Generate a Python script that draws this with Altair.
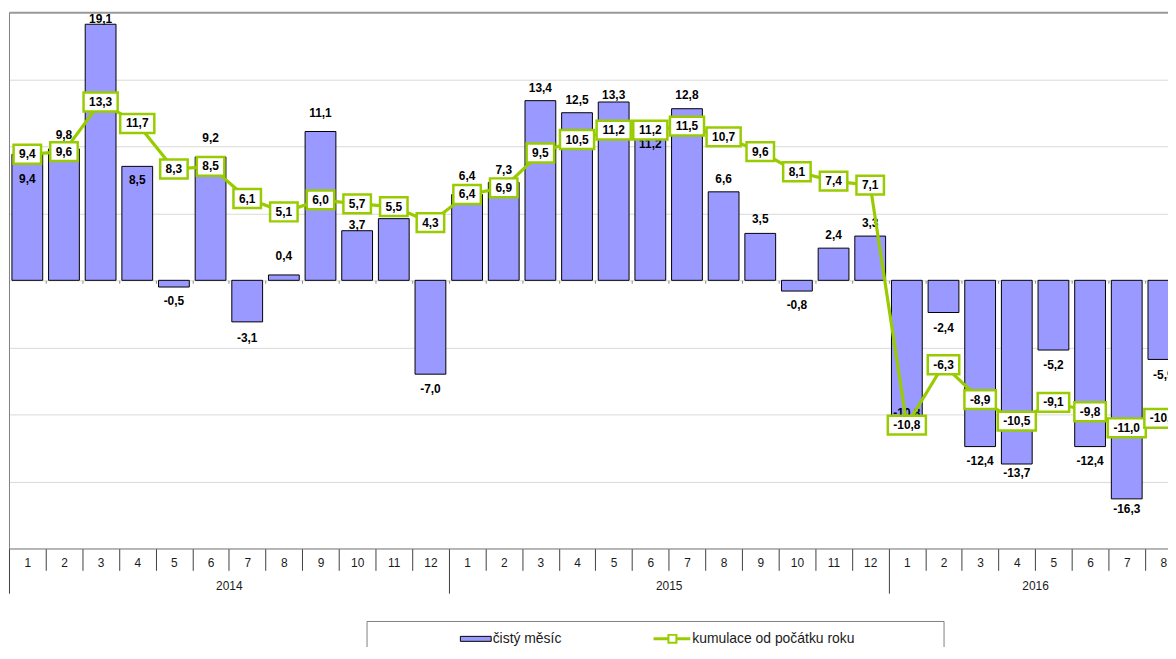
import altair as alt
import pandas as pd

# ---------------- data ----------------
years = [2014] * 12 + [2015] * 12 + [2016] * 8
months = list(range(1, 13)) + list(range(1, 13)) + list(range(1, 9))
monthly = [9.4, 9.8, 19.1, 8.5, -0.5, 9.2, -3.1, 0.4, 11.1, 3.7, 4.6, -7.0,
           6.4, 7.3, 13.4, 12.5, 13.3, 11.2, 12.8, 6.6, 3.5, -0.8, 2.4, 3.3,
           -10.8, -2.4, -12.4, -13.7, -5.2, -12.4, -16.3, -5.9]
cumulative = [9.4, 9.6, 13.3, 11.7, 8.3, 8.5, 6.1, 5.1, 6.0, 5.7, 5.5, 4.3,
              6.4, 6.9, 9.5, 10.5, 11.2, 11.2, 11.5, 10.7, 9.6, 8.1, 7.4, 7.1,
              -10.8, -6.3, -8.9, -10.5, -9.1, -9.8, -11.0, -10.3]
series_names = ["čistý měsíc", "kumulace od počátku roku"]

# ---------------- style (label placement in px, + = downwards) ----------------
bar_label_dy = [25, -14, -5, 14, 14, -19, 16, -19, -19, -6, -13, 15,
                -19, -13, -13, -13, -7, 14, -14, -13, -14, 14, -13, -13,
                -12, 16, 15, 9, 15, 15, 10, 16]

W, H = 1167, 540          # plot area
CAT_PX = 36.9             # width of one category
X_MAX = 0.5 + W / CAT_PX  # the original chart is cut at the right edge
Y_MIN, Y_MAX = -20, 20
PX_PER_UNIT = H / (Y_MAX - Y_MIN)
FONT = "Liberation Sans"
BAR_FILL = "#9999FF"
LINE_COL = "#99CC00"


def fmt(v):
    return f"{v:.1f}".replace(".", ",")


def text_w(s):
    return sum(6.67 if c.isdigit() else 3.33 if c == "," else 4.0 for c in s)


df = pd.DataFrame({"year": years, "month": months,
                   "monthly": monthly, "cum": cumulative})
df["idx"] = range(1, len(df) + 1)
df["bar_label"] = df["monthly"].map(fmt)
df["bar_label_y"] = df["monthly"] - pd.Series(bar_label_dy) / PX_PER_UNIT
df["cum_label"] = df["cum"].map(fmt)
half_w = df["cum_label"].map(lambda s: (text_w(s) + 11) / 2 / CAT_PX)
half_h = 9.5 / PX_PER_UNIT
df["bx1"] = df["idx"] - half_w
df["bx2"] = df["idx"] + half_w
df["by1"] = df["cum"] - half_h
df["by2"] = df["cum"] + half_h

xscale = alt.Scale(domain=[0.5, X_MAX], nice=False, zero=False, padding=0)
yscale = alt.Scale(domain=[Y_MIN, Y_MAX], nice=False, zero=False, padding=0)

# axis helpers derived from the data
month_expr = "[" + ",".join(f"'{m}'" for m in months) + "][datum.value - 1]"
year_first = df.groupby("year")["idx"].min()
year_center = df.groupby("year")["idx"].mean()
year_bounds = [float(v) - 0.5 for v in year_first.values]
month_bounds = [i + 0.5 for i in range(1, len(df)) if (i + 0.5) not in year_bounds]
all_bounds = [i + 0.5 for i in range(0, len(df))]
year_expr = "{" + ",".join(f"'{c:g}':'{y}'" for y, c in year_center.items()) + "}[datum.value]"

base_axis = dict(orient="bottom", title=None, grid=False, labelFlush=False,
                 labelOverlap=False, labelFont=FONT, labelFontSize=12,
                 labelColor="#1a1a1a")

month_axis = alt.Axis(**base_axis, values=list(df["idx"]), labelExpr=month_expr,
                      ticks=False, tickSize=0, labelPadding=9,
                      domain=True, domainColor="#808080")
sep_axis = alt.Axis(**base_axis, values=month_bounds, labels=False, domain=False,
                    ticks=True, tickSize=22, tickColor="#404040")
year_sep_axis = alt.Axis(**base_axis, values=year_bounds, labels=False, domain=False,
                         ticks=True, tickSize=45, tickColor="#404040")
year_axis = alt.Axis(**base_axis, values=[float(v) for v in year_center.values],
                     labelExpr=year_expr, ticks=False, tickSize=0,
                     labelPadding=32, domain=False)
zero_axis = alt.Axis(**base_axis, values=all_bounds, labels=False, domain=False,
                     ticks=True, tickSize=3, tickColor="#8c8c8c",
                     offset=-(H / 2))

y_axis = alt.Axis(title=None, labels=False, ticks=False, domain=True,
                  domainColor="#808080", grid=True,
                  values=list(range(Y_MIN, Y_MAX + 1, 5)),
                  gridColor={"condition": {"test": "datum.value === 20", "value": "#999999"},
                             "value": "#d9d9d9"},
                  gridWidth={"condition": {"test": "datum.value === 20", "value": 2},
                             "value": 1})


def Y(field):
    # the same y axis in every layer, so the shared axis is not disabled
    return alt.Y(field, scale=yscale, axis=y_axis)


base = alt.Chart(df)


def axis_layer(axis):
    return base.mark_point(opacity=0).encode(
        x=alt.X("idx:Q", scale=xscale, axis=axis))


bars = base.mark_bar(size=31, fill=BAR_FILL, stroke="#000000", strokeWidth=1).encode(
    x=alt.X("idx:Q", scale=xscale, axis=month_axis),
    y=Y("monthly:Q"),
)

bar_text = base.mark_text(font=FONT, fontSize=12, fontWeight="bold",
                          color="#000000", baseline="middle").encode(
    x=alt.X("idx:Q", scale=xscale, axis=None),
    y=Y("bar_label_y:Q"),
    text="bar_label:N",
)

line = base.mark_line(color=LINE_COL, strokeWidth=3.2).encode(
    x=alt.X("idx:Q", scale=xscale, axis=None),
    y=Y("cum:Q"),
)

boxes = base.mark_rect(fill="white", stroke=LINE_COL, strokeWidth=2.5).encode(
    x=alt.X("bx1:Q", scale=xscale, axis=None), x2="bx2:Q",
    y=Y("by1:Q"), y2="by2:Q",
)

box_text = base.mark_text(font=FONT, fontSize=12, fontWeight="bold",
                          color="#000000", baseline="middle").encode(
    x=alt.X("idx:Q", scale=xscale, axis=None),
    y=Y("cum:Q"),
    text="cum_label:N",
)

# ---------------- legend (boxed, below the axis) ----------------
LEG_Y = 631
leg = alt.Chart(pd.DataFrame({"name": series_names}))
first = alt.datum.name == series_names[0]
second = alt.datum.name == series_names[1]
leg_box = leg.transform_filter(first).mark_rect(
    fill="white", stroke="#808080", strokeWidth=1).encode(
    x=alt.value(360.5), x2=alt.value(941.5), y=alt.value(613.5), y2=alt.value(700))
leg_sym1 = leg.transform_filter(first).mark_rect(
    fill=BAR_FILL, stroke="#000000", strokeWidth=1).encode(
    x=alt.value(454.5), x2=alt.value(485.5), y=alt.value(LEG_Y - 2.5), y2=alt.value(LEG_Y + 2.5))
leg_txt1 = leg.transform_filter(first).mark_text(
    font=FONT, fontSize=14, align="left", baseline="middle", color="#1a1a1a").encode(
    x=alt.value(487), y=alt.value(LEG_Y), text="name:N")
leg_line2 = leg.transform_filter(second).mark_rule(
    color=LINE_COL, strokeWidth=3).encode(
    x=alt.value(649), x2=alt.value(686), y=alt.value(LEG_Y))
leg_sq2 = leg.transform_filter(second).mark_point(
    shape="square", filled=True, fill="white", stroke=LINE_COL, strokeWidth=2,
    size=64, opacity=1).encode(x=alt.value(668), y=alt.value(LEG_Y))
leg_txt2 = leg.transform_filter(second).mark_text(
    font=FONT, fontSize=14, align="left", baseline="middle", color="#1a1a1a").encode(
    x=alt.value(688), y=alt.value(LEG_Y), text="name:N")

chart = alt.layer(
    axis_layer(zero_axis),
    axis_layer(sep_axis),
    axis_layer(year_sep_axis),
    axis_layer(year_axis),
    bars, bar_text, line, boxes, box_text,
    leg_box, leg_sym1, leg_txt1, leg_line2, leg_sq2, leg_txt2,
).resolve_axis(x="independent").properties(
    width=W, height=H,
    padding={"left": 1, "top": 2, "right": 0, "bottom": 97},
    autosize=alt.AutoSizeParams(type="none"),
    background="white",
).configure_view(stroke=None)

chart.save("out.html", embed_options={"renderer": "svg", "actions": False})
